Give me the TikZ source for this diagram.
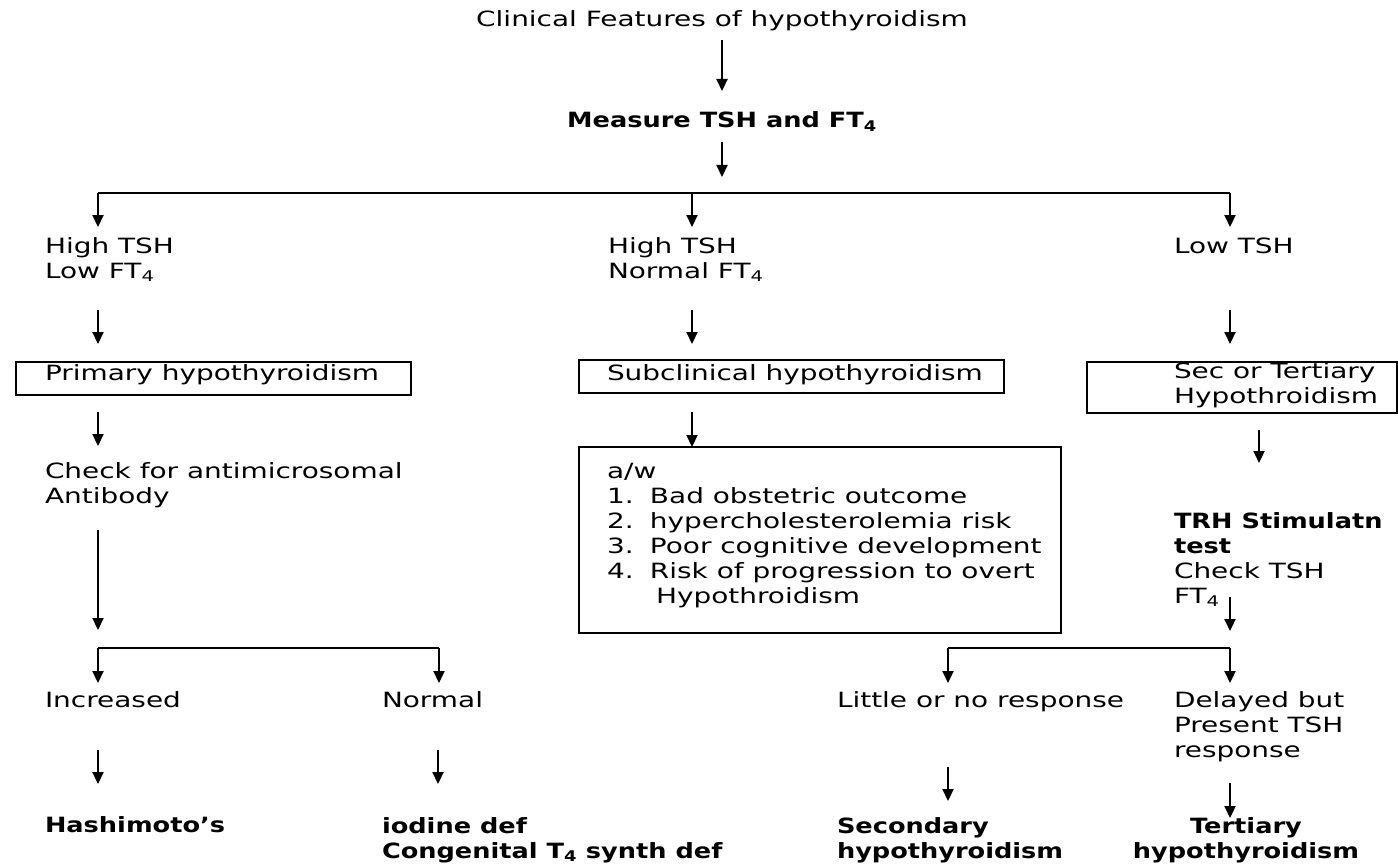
\documentclass[tikz,border=0pt]{standalone}
\usepackage{fontspec}
\setmainfont[FakeStretch=1.33, BoldFeatures={FakeStretch=1.22}]{DejaVu Sans}
\usetikzlibrary{arrows.meta}
\begin{document}
\begin{tikzpicture}[x=1pt,y=-1pt,
  every node/.style={inner sep=0pt, outer sep=0pt, font=\fontsize{21}{25}\selectfont},
  txt/.style={anchor=base west, align=left},
  ctxt/.style={anchor=base, align=center},
  boxn/.style={draw, line width=2.2pt, anchor=north west},
  arr/.style={line width=2.2pt, -{Triangle[width=11pt,length=12pt]}},
  lin/.style={line width=2pt}]
\useasboundingbox (0,0) rectangle (1398,864);
% texts (base = baseline of last line)
\node[ctxt] (clin) at (722,27) {Clinical Features of hypothyroidism};
\node[ctxt] (meas) at (722,128) {\textbf{Measure TSH and FT\textsubscript{4}}};
\node[txt] (hl) at (45,278) {High TSH\\Low FT\textsubscript{4}};
\node[txt] (hn) at (608,278) {High TSH\\Normal FT\textsubscript{4}};
\node[txt] (lt) at (1174,253) {Low TSH};
\node[txt] (prim) at (45,380) {Primary hypothyroidism};
\node[txt] (subc) at (607,380) {Subclinical hypothyroidism};
\node[txt] (sect) at (1174,403) {Sec or Tertiary\\Hypothroidism};
\node[txt] (chk) at (45,503) {Check for antimicrosomal\\Antibody};
\node[txt] (aw) at (607,603) {a/w\\
  \makebox[43pt][l]{1.}Bad obstetric outcome\\
  \makebox[43pt][l]{2.}hypercholesterolemia risk\\
  \makebox[43pt][l]{3.}Poor cognitive development\\
  \makebox[43pt][l]{4.}Risk of progression to overt\\
  \hspace*{49pt}Hypothroidism};
\node[txt] (trh) at (1174,603) {\textbf{TRH Stimulatn}\\\textbf{test}\\Check TSH\\FT\textsubscript{4}};
\node[txt] (inc) at (45,707) {Increased};
\node[txt] (nor) at (382,707) {Normal};
\node[txt] (lit) at (837,707) {Little or no response};
\node[txt] (del) at (1174,757) {Delayed but\\Present TSH\\response};
\node[txt] (hash) at (45,832) {\textbf{Hashimoto’s}};
\node[txt] (iod) at (382,858) {\textbf{iodine def}\\\textbf{Congenital T\textsubscript{4} synth def}};
\node[txt] (secd) at (837,858) {\textbf{Secondary}\\\textbf{hypothyroidism}};
\node[ctxt] (tert) at (1246,858) {\textbf{Tertiary}\\\textbf{hypothyroidism}};
% boxes
\node[boxn, minimum width=395pt, minimum height=33pt] (bprim) at (16,362) {};
\node[boxn, minimum width=425pt, minimum height=33pt] (bsub) at (579,360) {};
\node[boxn, minimum width=310pt, minimum height=51pt] (bsec) at (1087,362) {};
\node[boxn, minimum width=482pt, minimum height=186pt] (baw) at (579,447) {};
% arrow coordinates
\coordinate (c1s) at (722,40);   \coordinate (c1e) at (722,91);
\coordinate (c2s) at (722,142);  \coordinate (c2e) at (722,177);
\coordinate (bl) at (98,193);  \coordinate (bm) at (692,193);  \coordinate (br) at (1230,193);
\coordinate (blE) at (98,227); \coordinate (bmE) at (692,227); \coordinate (brE) at (1230,227);
\coordinate (r1l) at (98,310);  \coordinate (r1lE) at (98,344);
\coordinate (r1m) at (692,310); \coordinate (r1mE) at (692,344);
\coordinate (r1r) at (1230,310); \coordinate (r1rE) at (1230,344);
\coordinate (r2l) at (98,412);  \coordinate (r2lE) at (98,446);
\coordinate (r2m) at (692,412);
\coordinate (r2r) at (1259,430); \coordinate (r2rE) at (1259,463);
\coordinate (r3l) at (98,530);  \coordinate (r3lE) at (98,630);
\coordinate (r3r) at (1230,597); \coordinate (r3rE) at (1230,631);
\coordinate (sl1) at (98,648); \coordinate (sl2) at (439,648);
\coordinate (sl1E) at (98,683); \coordinate (sl2E) at (439,683);
\coordinate (sr1) at (948,648); \coordinate (sr2) at (1230,648);
\coordinate (sr1E) at (948,683); \coordinate (sr2E) at (1230,683);
\coordinate (b1) at (98,750);  \coordinate (b1E) at (98,784);
\coordinate (b2) at (438,750); \coordinate (b2E) at (438,784);
\coordinate (b3) at (948,767); \coordinate (b3E) at (948,801);
\coordinate (b4) at (1230,783); \coordinate (b4E) at (1230,818);
% connectors
\draw[arr] (c1s) -- (c1e);
\draw[arr] (c2s) -- (c2e);
\draw[lin] (bl) -- (br);
\draw[arr] (bl) -- (blE);
\draw[arr] (bm) -- (bmE);
\draw[arr] (br) -- (brE);
\draw[arr] (r1l) -- (r1lE);
\draw[arr] (r1m) -- (r1mE);
\draw[arr] (r1r) -- (r1rE);
\draw[arr] (r2l) -- (r2lE);
\draw[arr] (r2m) -- (r2m |- baw.north);
\draw[arr] (r2r) -- (r2rE);
\draw[arr] (r3l) -- (r3lE);
\draw[arr] (r3r) -- (r3rE);
\draw[lin] (sl1) -- (sl2);
\draw[arr] (sl1) -- (sl1E);
\draw[arr] (sl2) -- (sl2E);
\draw[lin] (sr1) -- (sr2);
\draw[arr] (sr1) -- (sr1E);
\draw[arr] (sr2) -- (sr2E);
\draw[arr] (b1) -- (b1E);
\draw[arr] (b2) -- (b2E);
\draw[arr] (b3) -- (b3E);
\draw[arr] (b4) -- (b4E);
\end{tikzpicture}
\end{document}
